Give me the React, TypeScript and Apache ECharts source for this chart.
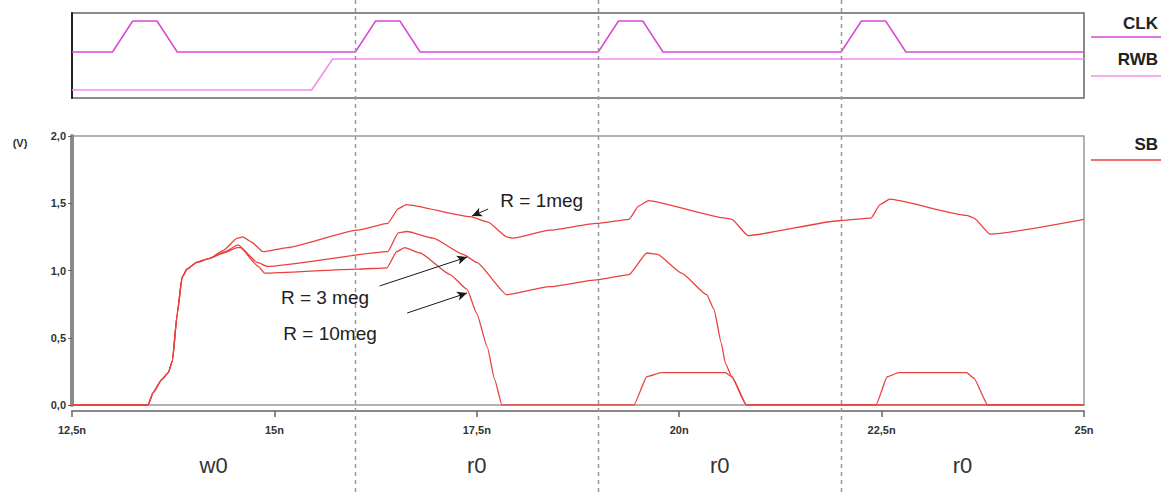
import React, { useEffect, useRef } from "react";
import * as echarts from "echarts";

// ---- data ----
const xTicks = [12.5, 15, 17.5, 20, 22.5, 25];
const yTicks = [0, 0.5, 1.0, 1.5, 2.0];

const clkTime = [12.5, 13.0, 13.25, 13.55, 13.8, 16.0, 16.25, 16.55, 16.8, 19.0, 19.25, 19.55, 19.8, 22.0, 22.25, 22.55, 22.8, 25];
const clkLevel = [0, 0, 1, 1, 0, 0, 1, 1, 0, 0, 1, 1, 0, 0, 1, 1, 0, 0];

const rwbTime = [12.5, 15.46, 15.72, 25];
const rwbLevel = [0, 0, 1, 1];

const sbRise = [
  [12.5, 0], [13.44, 0], [13.5, 0.09], [13.61, 0.19], [13.69, 0.24], [13.74, 0.33],
  [13.8, 0.68], [13.86, 0.95], [13.92, 1.01], [14.04, 1.06], [14.2, 1.09],
];

const sb1meg = [
  [14.37, 1.15], [14.54, 1.24], [14.61, 1.25], [14.72, 1.21], [14.86, 1.14], [15.16, 1.17],
  [16.02, 1.3], [16.4, 1.35], [16.53, 1.46], [16.63, 1.49], [17.42, 1.4], [17.64, 1.36],
  [17.87, 1.25], [17.95, 1.24], [18.4, 1.3], [18.98, 1.35], [19.38, 1.38], [19.5, 1.48],
  [19.62, 1.52], [20.57, 1.39], [20.65, 1.38], [20.85, 1.26], [21.97, 1.37], [22.37, 1.39],
  [22.48, 1.49], [22.6, 1.53], [23.55, 1.41], [23.64, 1.39], [23.84, 1.27], [25.0, 1.38],
];

const sb3meg = [
  [14.39, 1.14], [14.55, 1.19], [14.79, 1.06], [14.91, 1.03], [16.4, 1.14], [16.53, 1.28],
  [16.64, 1.29], [16.96, 1.24], [17.33, 1.12], [17.5, 1.06], [17.87, 0.82], [18.4, 0.88],
  [18.98, 0.93], [19.38, 0.97], [19.6, 1.13], [19.73, 1.12], [20.03, 0.98], [20.34, 0.82],
  [20.43, 0.71], [20.52, 0.46], [20.57, 0.31], [20.65, 0.21], [20.83, 0], [25, 0],
];

const sb10meg = [
  [14.37, 1.13], [14.54, 1.17], [14.58, 1.17], [14.8, 1.03], [14.88, 0.98], [16.02, 1.01],
  [16.39, 1.02], [16.51, 1.14], [16.61, 1.17], [16.8, 1.13], [17.17, 0.97], [17.38, 0.86],
  [17.5, 0.68], [17.63, 0.43], [17.72, 0.19], [17.81, 0], [19.44, 0], [19.6, 0.21],
  [19.78, 0.24], [20.57, 0.24], [20.65, 0.21], [20.83, 0], [22.43, 0], [22.57, 0.21],
  [22.71, 0.24], [23.55, 0.24], [23.64, 0.2], [23.81, 0], [25, 0],
];

const phaseStart = [12.5, 16, 19, 22];
const phaseEnd = [16, 19, 22, 25];
const phaseLabels = ["w0", "r0", "r0", "r0"];

const annotTexts = ["R = 1meg", "R = 3 meg", "R = 10meg"];
const annotTextPos = [[17.79, 1.524], [15.08, 0.8], [15.11, 0.535]];
const arrowFrom = [[17.64, 1.457], [16.3, 0.885], [16.64, 0.684]];
const arrowTo = [[17.44, 1.405], [17.38, 1.1], [17.38, 0.833]];

const FONT = "'Liberation Sans', Arial, sans-serif";
const RED = "#e8413f";
const CLK_COLOR = "#d748d7";
const RWB_COLOR = "#ef8cef";

const fmt = (v: number) => String(v).replace(".", ",");

export default function App() {
  const ref = useRef<HTMLDivElement>(null);
  useEffect(() => {
    if (!ref.current) return;
    const chart = echarts.init(ref.current, null, { renderer: "svg" });
    const option: any = {
      animation: false,
      backgroundColor: "#fff",
      grid: [
        { left: 72, right: 77, top: 13, height: 85, show: true, borderColor: "#666", borderWidth: 1.5 },
        { left: 72, right: 77, top: 136, height: 269, show: true, borderColor: "#999", borderWidth: 1.5 },
      ],
      xAxis: [
        { type: "value", gridIndex: 0, min: 12.5, max: 25, show: false },
        {
          type: "value", gridIndex: 1, min: 12.5, max: 25, interval: 2.5, offset: 6,
          axisLine: { show: true, onZero: false, lineStyle: { color: "#888", width: 2 } },
          axisTick: { show: true, length: 6, lineStyle: { color: "#666", width: 1.5 } },
          axisLabel: {
            margin: 13, fontSize: 11, fontWeight: "bold", color: "#333", fontFamily: FONT,
            formatter: (v: number) => fmt(v) + "n",
          },
          splitLine: { show: false },
        },
      ],
      yAxis: [
        {
          type: "value", gridIndex: 0, min: -1.484, max: 1.258,
          axisLine: { show: true, lineStyle: { color: "#222", width: 2 } },
          axisTick: { show: false }, axisLabel: { show: false }, splitLine: { show: false },
        },
        { type: "value", gridIndex: 0, min: -0.258, max: 2.484, show: false, splitLine: { show: false } },
        {
          type: "value", gridIndex: 1, min: 0, max: 2, interval: 0.5,
          axisLine: { show: true, onZero: false, lineStyle: { color: "#8a8a8a", width: 4 } },
          axisTick: { show: true, length: 4, lineStyle: { color: "#666" } },
          axisLabel: {
            margin: 6, fontSize: 11, fontWeight: "bold", color: "#333", fontFamily: FONT,
            formatter: (v: number) => v.toFixed(1).replace(".", ","),
          },
          splitLine: { show: false },
        },
      ],
      series: [
        {
          name: "CLK", type: "line", xAxisIndex: 0, yAxisIndex: 0, showSymbol: false,
          data: clkTime.map((t, i) => [t, clkLevel[i]]),
          lineStyle: { color: CLK_COLOR, width: 1.5 }, itemStyle: { color: CLK_COLOR },
        },
        {
          name: "RWB", type: "line", xAxisIndex: 0, yAxisIndex: 1, showSymbol: false,
          data: rwbTime.map((t, i) => [t, rwbLevel[i]]),
          lineStyle: { color: RWB_COLOR, width: 1.5 }, itemStyle: { color: RWB_COLOR },
        },
        ...[sb10meg, sb3meg, sb1meg].map((d, k) => ({
          name: "SB" + k, type: "line", xAxisIndex: 1, yAxisIndex: 2, showSymbol: false,
          data: [...sbRise, ...d], z: 3, smooth: 0.15, smoothMonotone: "x",
          lineStyle: { color: RED, width: 1.3 }, itemStyle: { color: RED },
          markLine: k === 2 ? {
            silent: true, symbol: ["none", "arrow"], symbolSize: [7, 10],
            label: { show: false },
            lineStyle: { color: "#1a1a1a", width: 1, type: "solid" },
            data: arrowFrom.map((f, i) => [{ coord: f }, { coord: arrowTo[i] }]),
          } : undefined,
        })),
      ],
    };
    chart.setOption(option);

    const px = (t: number) => chart.convertToPixel({ xAxisIndex: 1 }, t) as number;
    const py = (v: number) => chart.convertToPixel({ yAxisIndex: 2 }, v) as number;

    const graphics: any[] = [];
    phaseStart.slice(1).forEach((t) => {
      const x = Math.round(px(t)) + 0.5;
      graphics.push({
        type: "line", z: 10, shape: { x1: x, y1: 0, x2: x, y2: 495 },
        style: { stroke: "#9a9a9a", lineWidth: 1.5, lineDash: [4, 4] },
      });
    });
    phaseLabels.forEach((s, i) => {
      graphics.push({
        type: "text", z: 10,
        style: {
          text: s, x: px((phaseStart[i] + phaseEnd[i]) / 2), y: 465,
          align: "center", verticalAlign: "middle", fill: "#333", font: `22px ${FONT}`,
        },
      });
    });
    annotTexts.forEach((s, i) => {
      graphics.push({
        type: "text", z: 10,
        style: {
          text: s, x: px(annotTextPos[i][0]), y: py(annotTextPos[i][1]),
          align: "left", verticalAlign: "middle", fill: "#222", font: `19px ${FONT}`,
        },
      });
    });
    graphics.push({
      type: "text", z: 10,
      style: { text: "(V)", x: 20, y: 143, align: "center", verticalAlign: "middle", fill: "#333", font: `bold 11px ${FONT}` },
    });
    const legend = [
      { name: "CLK", color: CLK_COLOR, ty: 23, ly: 37 },
      { name: "RWB", color: RWB_COLOR, ty: 59, ly: 76 },
      { name: "SB", color: RED, ty: 144, ly: 160 },
    ];
    legend.forEach((l) => {
      graphics.push({
        type: "text", z: 10,
        style: { text: l.name, x: 1158, y: l.ty, align: "right", verticalAlign: "middle", fill: "#222", font: `bold 17px ${FONT}` },
      });
      graphics.push({
        type: "line", z: 10, shape: { x1: 1091, y1: l.ly, x2: 1161, y2: l.ly },
        style: { stroke: l.color, lineWidth: 1.5 },
      });
    });
    chart.setOption({ graphic: graphics });

    return () => chart.dispose();
  }, []);
  return (
    <div
      ref={ref}
      style={{ position: "fixed", left: 0, top: 0, width: 1161, height: 495, background: "#fff" }}
    />
  );
}
